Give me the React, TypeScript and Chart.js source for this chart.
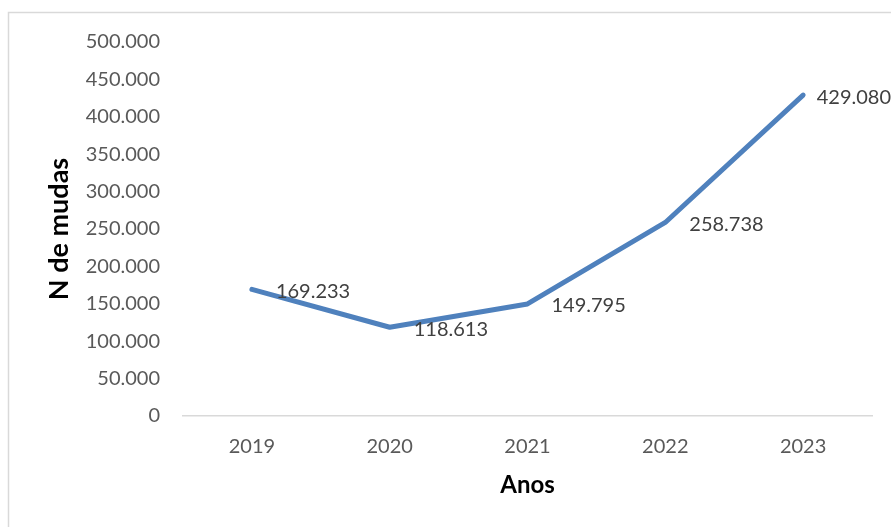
import React, { useEffect, useRef } from "react";
import { Chart, registerables } from "chart.js";

Chart.register(...registerables);

const categories = ["2019", "2020", "2021", "2022", "2023"];
const mudas = [169233, 118613, 149795, 258738, 429080];
const yTickStep = 50000;
const yMax = 500000;

const fmt = (v: number) =>
  Math.round(v)
    .toString()
    .replace(/\B(?=(\d{3})+(?!\d))/g, ".");

const FONT = "Lato, 'Open Sans', sans-serif";

const borderPlugin = {
  id: "outerBorder",
  beforeDraw(chart: any) {
    const ctx = chart.ctx;
    ctx.save();
    ctx.fillStyle = "#ffffff";
    ctx.fillRect(0, 0, chart.width, chart.height);
    ctx.strokeStyle = "#d9d9d9";
    ctx.lineWidth = 1.5;
    ctx.strokeRect(8.5, 12.5, chart.width + 50, chart.height + 50);
    ctx.restore();
  },
};

const labelPlugin = {
  id: "valueLabels",
  afterDatasetsDraw(chart: any) {
    const ctx = chart.ctx;
    const meta = chart.getDatasetMeta(0);
    const data = chart.data.datasets[0].data as number[];
    ctx.save();
    ctx.font = `20px ${FONT}`;
    ctx.fillStyle = "#404040";
    ctx.textAlign = "left";
    ctx.textBaseline = "middle";
    meta.data.forEach((pt: any, i: number) => {
      const text = fmt(data[i]);
      const w = ctx.measureText(text).width;
      let x = pt.x + 24;
      if (x + w > chart.width) x = chart.width - w;
      ctx.fillText(text, x, pt.y + 2);
    });
    ctx.restore();
  },
};

export default function App() {
  const ref = useRef<HTMLCanvasElement | null>(null);
  useEffect(() => {
    if (!ref.current) return;
    const chart = new Chart(ref.current, {
      type: "line",
      data: {
        labels: categories,
        datasets: [
          {
            data: mudas,
            borderColor: "#4f81bd",
            backgroundColor: "#4f81bd",
            borderWidth: 5,
            borderCapStyle: "round",
            borderJoinStyle: "round",
            pointRadius: 0,
            tension: 0,
            fill: false,
          },
        ],
      },
      options: {
        responsive: false,
        animation: false,
        devicePixelRatio: 1,
        layout: { padding: { left: 0, right: 19, top: 42, bottom: 0 } },
        plugins: {
          legend: { display: false },
          tooltip: { enabled: false },
        },
        scales: {
          x: {
            offset: true,
            grid: { display: false, drawTicks: false },
            border: { display: true, color: "#d9d9d9", width: 1.5 },
            ticks: {
              padding: 19,
              color: "#595959",
              font: { family: FONT, size: 20 },
            },
            title: {
              display: true,
              text: "Anos",
              color: "#000000",
              font: { family: FONT, size: 24, weight: "bold" },
              padding: { top: 0, bottom: 27 },
            },
            afterFit(scale: any) {
              scale.height = 111;
            },
          },
          y: {
            min: 0,
            max: yMax,
            grid: { display: false, drawTicks: false },
            border: { display: false },
            ticks: {
              stepSize: yTickStep,
              padding: 23,
              color: "#595959",
              font: { family: FONT, size: 20 },
              callback: (v: any) => fmt(Number(v)),
            },
            title: {
              display: true,
              text: "N de mudas",
              color: "#000000",
              font: { family: FONT, size: 27, weight: "bold" },
              padding: { top: 43, bottom: 0 },
            },
            afterFit(scale: any) {
              scale.width = 183;
            },
          },
        },
      } as any,
      plugins: [borderPlugin, labelPlugin],
    });
    return () => chart.destroy();
  }, []);
  return (
    <canvas
      ref={ref}
      width={891}
      height={527}
      style={{ position: "fixed", left: 0, top: 0, width: 891, height: 527 }}
    />
  );
}
